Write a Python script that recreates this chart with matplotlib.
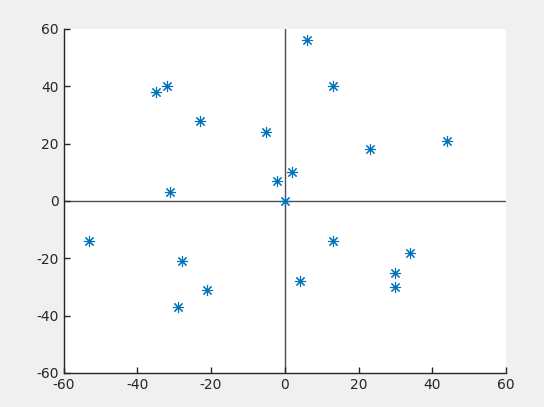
import matplotlib
matplotlib.use("Agg")
import matplotlib.pyplot as plt

plt.rcParams["axes.unicode_minus"] = False

x = [6, 13, -32, -35, -23, -5, 23, 44, 2, -2, -31, 0, -53, 13, -28, 34, 30, 30, 4, -21, -29]
y = [56, 40, 40, 38, 28, 24, 18, 21, 10, 7, 3, 0, -14, -14, -21, -18, -25, -30, -28, -31, -37]
xticks = [-60, -40, -20, 0, 20, 40, 60]
yticks = [-60, -40, -20, 0, 20, 40, 60]

fig = plt.figure(figsize=(5.44, 4.07), dpi=100, facecolor="#f0f0f0")
ax = fig.add_axes([63.5/544, 34/407, (506-63.5)/544, (373-29)/407])
ax.set_facecolor("white")
ax.axhline(0, color="#4d4d4d", lw=1, zorder=1)
ax.axvline(0, color="#4d4d4d", lw=1, zorder=1)
ax.plot(x, y, linestyle="none", marker=(8, 2, 0), color="#0072BD",
        markersize=8, markeredgewidth=0.8, zorder=3)
ax.set_xlim(-60, 60)
ax.set_ylim(-60, 60)
ax.set_xticks(xticks)
ax.set_yticks(yticks)
for s in ["top", "right"]:
    ax.spines[s].set_visible(False)
for s in ["left", "bottom"]:
    ax.spines[s].set_color("#262626")
    ax.spines[s].set_linewidth(1)
ax.tick_params(direction="in", length=4, colors="#262626", labelsize=10, width=1)
fig.savefig("out.png", dpi=100, facecolor=fig.get_facecolor())
